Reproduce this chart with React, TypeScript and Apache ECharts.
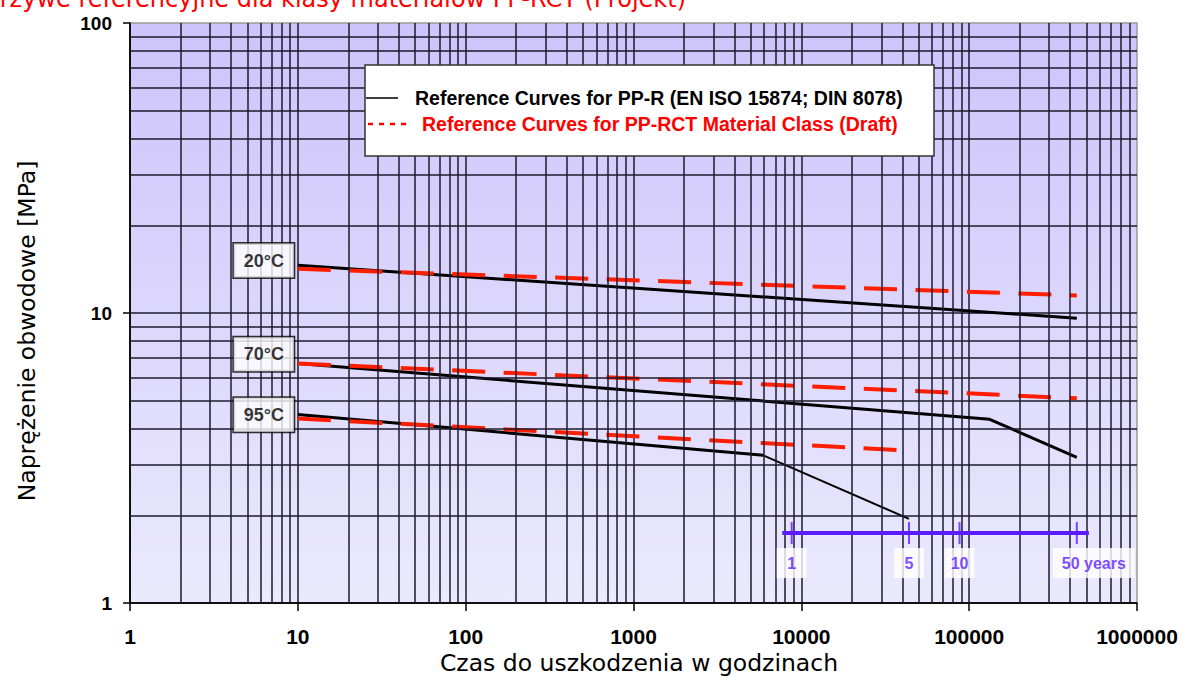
import React, { useEffect, useRef } from 'react';
import * as echarts from 'echarts';

// ---- tick labels / grid ----
const xTickLabels = ['1', '10', '100', '1000', '10000', '100000', '1000000'];
const yTickLabels = ['1', '10', '100'];
const xDecades = [1, 10, 100, 1000, 10000, 100000];
const yDecades = [1, 10];
const minorMultipliers = [2, 3, 4, 5, 6, 7, 8, 9];

// ---- PP-R reference curves (EN ISO 15874; DIN 8078) : [hours, MPa] ----
const ppr20 = [[10, 14.6], [438000, 9.6]];
const ppr70 = [[10, 6.7], [132500, 4.3], [438000, 3.18]];
const ppr95 = [[10, 4.47], [5930, 3.23]];
const ppr95Tail = [[5930, 3.23], [43800, 1.95]];

// ---- PP-RCT material class (draft) ----
const rct20 = [[10, 14.2], [438000, 11.5]];
const rct70 = [[10, 6.7], [438000, 5.08]];
const rct95 = [[10, 4.33], [43800, 3.35]];

// ---- temperature labels ----
const tempLabels = ['20°C', '70°C', '95°C'];
const tempLabelX = 6.27;
const tempLabelY = [15.16, 7.2, 4.46];

// ---- years scale ----
const hoursPerYear = 8760;
const yearMarks = [1, 5, 10, 50];
const yearLabels = ['1', '5', '10', '50 years'];
const yearsBarY = 1.742;
const yearsBarSpan = [7700, 517000];
const yearsLabelY = 1.373;

const legendLabels = [
  'Reference Curves for PP-R (EN ISO 15874; DIN 8078)',
  'Reference Curves for PP-RCT Material Class (Draft)',
];
const titleText = 'Krzywe referencyjne dla klasy materiałów PP-RCT (Projekt)';
const xAxisTitle = 'Czas do uszkodzenia w godzinach';
const yAxisTitle = 'Naprężenie obwodowe [MPa]';

const GRID_COLOR = '#1c1a2c';
const YEAR_COLOR = '#5a1cff';
const RED = '#ff1e00';

export default function App() {
  const ref = useRef<HTMLDivElement>(null);

  useEffect(() => {
    if (!ref.current) return;
    document.body.style.margin = '0';
    const chart = echarts.init(ref.current, undefined, { renderer: 'svg' });

    const xMinor: number[] = [];
    xDecades.forEach((d) => minorMultipliers.forEach((m) => xMinor.push(d * m)));
    const yMinor: number[] = [];
    yDecades.forEach((d) => minorMultipliers.forEach((m) => yMinor.push(d * m)));

    const blackLine = (name: string, data: number[][], width = 3) => ({
      type: 'line',
      name,
      data,
      symbol: 'none',
      silent: true,
      z: 3,
      lineStyle: { color: '#000', width, cap: 'butt' },
    });
    const redLine = (name: string, data: number[][]) => ({
      type: 'line',
      name,
      data,
      symbol: 'none',
      silent: true,
      z: 4,
      lineStyle: { color: RED, width: 4, type: [33, 18.5], cap: 'butt' },
    });

    const option: any = {
      animation: false,
      tooltip: { show: false },
      grid: {
        left: 130,
        right: 47,
        top: 23,
        bottom: 74,
        show: true,
        borderColor: '#9a9a9a',
        borderWidth: 1.5,
        backgroundColor: new echarts.graphic.LinearGradient(0, 0, 0, 1, [
          { offset: 0, color: '#cdc4fb' },
          { offset: 1, color: '#ebe9fd' },
        ]),
      },
      xAxis: {
        type: 'log',
        logBase: 10,
        min: 1,
        max: 1000000,
        splitNumber: 6,
        axisLine: { show: true, lineStyle: { color: '#000', width: 1.5 } },
        axisTick: { show: true, length: 8, lineStyle: { color: '#000', width: 1.5 } },
        axisLabel: {
          margin: 23,
          fontSize: 21,
          fontWeight: 'bold',
          fontFamily: 'Liberation Sans, Arial, sans-serif',
          color: '#000',
          formatter: (v: number) => xTickLabels[Math.round(Math.log10(v))] ?? '',
        },
        splitLine: { show: true, showMaxLine: false, lineStyle: { color: GRID_COLOR, width: 1.5 } },
      },
      yAxis: {
        type: 'log',
        logBase: 10,
        min: 1,
        max: 100,
        axisLine: { show: true, lineStyle: { color: '#000', width: 1.5 } },
        axisTick: { show: true, length: 7, lineStyle: { color: '#000', width: 1.5 } },
        axisLabel: {
          margin: 18,
          fontSize: 19,
          fontWeight: 'bold',
          fontFamily: 'Liberation Sans, Arial, sans-serif',
          color: '#000',
          formatter: (v: number) => yTickLabels[Math.round(Math.log10(v))] ?? '',
        },
        splitLine: { show: true, showMaxLine: false, lineStyle: { color: GRID_COLOR, width: 1.5 } },
      },
      series: [
        {
          type: 'line',
          name: 'grid',
          data: [[1, 1]],
          symbol: 'none',
          silent: true,
          z: 1,
          lineStyle: { width: 0, opacity: 0 },
          markLine: {
            silent: true,
            symbol: ['none', 'none'],
            label: { show: false },
            emphasis: { disabled: true },
            lineStyle: { color: GRID_COLOR, width: 1.5, type: 'solid' },
            data: [
              ...xMinor.map((v) => ({ xAxis: v })),
              ...yMinor.map((v) => ({ yAxis: v })),
            ],
          },
        },
        blackLine('PP-R 20°C', ppr20),
        blackLine('PP-R 70°C', ppr70),
        blackLine('PP-R 95°C', ppr95),
        blackLine('PP-R 95°C tail', ppr95Tail, 2),
        redLine('PP-RCT 20°C', rct20),
        redLine('PP-RCT 70°C', rct70),
        redLine('PP-RCT 95°C', rct95),
        {
          type: 'scatter',
          name: 'temperatures',
          silent: true,
          z: 10,
          symbolSize: 1,
          itemStyle: { color: 'transparent' },
          data: tempLabelY.map((y) => [tempLabelX, y]),
          label: {
            show: true,
            position: 'inside',
            formatter: (p: any) => tempLabels[p.dataIndex],
            backgroundColor: '#fff',
            borderColor: '#000',
            borderWidth: 1.5,
            textBorderWidth: 0,
            padding: [8, 9],
            width: 42,
            align: 'center',
            fontSize: 18,
            fontWeight: 'bold',
            fontFamily: 'Liberation Sans, Arial, sans-serif',
            color: '#000',
          },
        },
        {
          type: 'line',
          name: 'years bar',
          silent: true,
          z: 5,
          symbol: 'none',
          data: yearsBarSpan.map((x) => [x, yearsBarY]),
          lineStyle: { color: YEAR_COLOR, width: 4 },
        },
        {
          type: 'scatter',
          name: 'years ticks',
          silent: true,
          z: 5,
          symbol: 'rect',
          symbolSize: [2, 22],
          itemStyle: { color: YEAR_COLOR },
          data: yearMarks.map((y) => [y * hoursPerYear, yearsBarY]),
        },
        {
          type: 'scatter',
          name: 'years labels',
          silent: true,
          z: 10,
          symbolSize: 1,
          itemStyle: { color: 'transparent' },
          data: yearMarks.map((y, i) => ({
            value: [y * hoursPerYear, yearsLabelY],
            label:
              i === yearMarks.length - 1
                ? { offset: [17, 0] }
                : { width: 14, align: 'center', padding: [7, 8] },
          })),
          label: {
            show: true,
            position: 'inside',
            formatter: (p: any) => yearLabels[p.dataIndex],
            backgroundColor: '#fff',
            textBorderWidth: 0,
            padding: [7, 9],
            fontSize: 16,
            fontWeight: 'bold',
            fontFamily: 'Liberation Sans, Arial, sans-serif',
            color: YEAR_COLOR,
          },
        },
      ],
      graphic: [
        {
          type: 'text',
          x: -16,
          y: -13.5,
          z: 100,
          style: {
            text: titleText,
            fill: '#ff0000',
            font: '24px "DejaVu Sans", Verdana, sans-serif',
            align: 'left',
            verticalAlign: 'top',
          },
        },
        {
          type: 'text',
          x: 27,
          y: 331,
          rotation: Math.PI / 2,
          z: 100,
          style: {
            text: yAxisTitle,
            fill: '#000',
            font: '23.5px "DejaVu Sans", Verdana, sans-serif',
            align: 'center',
            verticalAlign: 'middle',
          },
        },
        {
          type: 'text',
          x: 639,
          y: 663,
          z: 100,
          style: {
            text: xAxisTitle,
            fill: '#000',
            font: '23.5px "DejaVu Sans", Verdana, sans-serif',
            align: 'center',
            verticalAlign: 'middle',
          },
        },
        {
          type: 'group',
          z: 100,
          children: [
            {
              type: 'rect',
              z: 100,
              shape: { x: 365, y: 65, width: 569, height: 91 },
              style: { fill: '#fff', stroke: '#333', lineWidth: 1.5 },
            },
            {
              type: 'line',
              z: 101,
              shape: { x1: 366, y1: 98, x2: 398, y2: 98 },
              style: { stroke: '#000', lineWidth: 1.5 },
            },
            {
              type: 'text',
              z: 101,
              x: 415,
              y: 98,
              style: {
                text: legendLabels[0],
                fill: '#000',
                font: 'bold 19.5px "Liberation Sans", Arial, sans-serif',
                verticalAlign: 'middle',
              },
            },
            {
              type: 'line',
              z: 101,
              shape: { x1: 368, y1: 124, x2: 408, y2: 124 },
              style: { stroke: '#ff0000', lineWidth: 2.5, lineDash: [5, 6] },
            },
            {
              type: 'text',
              z: 101,
              x: 422,
              y: 124,
              style: {
                text: legendLabels[1],
                fill: '#ff0000',
                font: 'bold 19.5px "Liberation Sans", Arial, sans-serif',
                verticalAlign: 'middle',
              },
            },
          ],
        },
      ],
    };

    chart.setOption(option);
    return () => chart.dispose();
  }, []);

  return (
    <div
      ref={ref}
      style={{ position: 'fixed', left: 0, top: 0, width: 1184, height: 677, background: '#fff' }}
    />
  );
}
